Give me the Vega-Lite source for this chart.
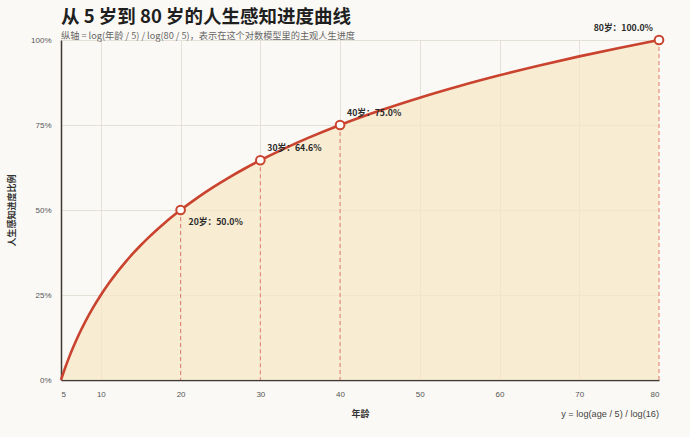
{
  "$schema": "https://vega.github.io/schema/vega-lite/v6.json",
  "autosize": "none",
  "width": 598,
  "height": 340,
  "padding": {"left": 61, "top": 40, "right": 31, "bottom": 57},
  "background": "#FBF9F5",
  "title": {
    "text": "从 5 岁到 80 岁的人生感知进度曲线",
    "subtitle": "纵轴 = log(年龄 / 5) / log(80 / 5)，表示在这个对数模型里的主观人生进度",
    "anchor": "start",
    "frame": "group",
    "offset": -17,
    "font": "Noto Sans CJK SC",
    "fontSize": 18.5,
    "fontWeight": "bold",
    "color": "#1F1F1F",
    "subtitleFont": "Noto Sans CJK SC",
    "subtitleFontSize": 9.2,
    "subtitleColor": "#666666",
    "subtitlePadding": 5
  },
  "config": {
    "view": {"stroke": null},
    "font": "Noto Sans CJK SC",
    "axis": {
      "labelFont": "Liberation Sans",
      "titleFont": "Noto Sans CJK SC",
      "labelColor": "#555555",
      "labelFontSize": 8,
      "titleFontSize": 9,
      "titleFontWeight": "bold",
      "titleColor": "#333333",
      "gridColor": "#E6E1D8",
      "gridWidth": 1,
      "ticks": false,
      "domainColor": "#3E3A36",
      "domainWidth": 1.5
    }
  },
  "datasets": {
    "curve": [
      {"age": 5, "p": 0},
      {"age": 5.5, "p": 0.03438},
      {"age": 6, "p": 0.06576},
      {"age": 6.5, "p": 0.09463},
      {"age": 7, "p": 0.12136},
      {"age": 7.5, "p": 0.14624},
      {"age": 8, "p": 0.16952},
      {"age": 9, "p": 0.212},
      {"age": 10, "p": 0.25},
      {"age": 11, "p": 0.28438},
      {"age": 12, "p": 0.31576},
      {"age": 13, "p": 0.34463},
      {"age": 14, "p": 0.37136},
      {"age": 15, "p": 0.39624},
      {"age": 16, "p": 0.41952},
      {"age": 17, "p": 0.44138},
      {"age": 18, "p": 0.462},
      {"age": 19, "p": 0.4815},
      {"age": 20, "p": 0.5},
      {"age": 22, "p": 0.53438},
      {"age": 24, "p": 0.56576},
      {"age": 26, "p": 0.59463},
      {"age": 28, "p": 0.62136},
      {"age": 30, "p": 0.64624},
      {"age": 33, "p": 0.68062},
      {"age": 36, "p": 0.712},
      {"age": 40, "p": 0.75},
      {"age": 45, "p": 0.79248},
      {"age": 50, "p": 0.83048},
      {"age": 55, "p": 0.86486},
      {"age": 60, "p": 0.89624},
      {"age": 65, "p": 0.92511},
      {"age": 70, "p": 0.95184},
      {"age": 75, "p": 0.97672},
      {"age": 80, "p": 1}
    ],
    "marks": [
      {"age": 20, "p": 0.5, "label": "20岁：50.0%", "pos": "below"},
      {"age": 30, "p": 0.64624, "label": "30岁：64.6%", "pos": "above"},
      {"age": 40, "p": 0.75, "label": "40岁：75.0%", "pos": "above"},
      {"age": 80, "p": 1, "label": "80岁：100.0%", "pos": "left"}
    ],
    "note": [
      {"age": 80, "p": -0.1, "label": "y = log(age / 5) / log(16)"}
    ]
  },
  "encoding": {
    "x": {
      "field": "age",
      "type": "quantitative",
      "scale": {"domain": [5, 80], "nice": false, "zero": false},
      "axis": {
        "title": "年龄",
        "values": [5, 10, 20, 30, 40, 50, 60, 70, 80],
        "labelPadding": 10,
        "titlePadding": 11,
        "gridColor": {"condition": {"test": "datum.value == 5 || datum.value == 80", "value": "transparent"}, "value": "#E6E1D8"}
      }
    },
    "y": {
      "field": "p",
      "type": "quantitative",
      "scale": {"domain": [0, 1], "nice": false},
      "axis": {
        "title": "人生感知进度比例",
        "values": [0, 0.25, 0.5, 0.75, 1],
        "format": ".0%",
        "labelPadding": 10,
        "titlePadding": 14,
        "gridColor": {"condition": {"test": "datum.value == 0", "value": "transparent"}, "value": "#E6E1D8"}
      }
    }
  },
  "layer": [
    {
      "data": {"name": "curve"},
      "mark": {"type": "area", "color": "#F6E6C6", "opacity": 0.72, "interpolate": "monotone"}
    },
    {
      "data": {"name": "marks"},
      "mark": {"type": "rule", "color": "#E07B6B", "strokeDash": [4, 3], "strokeWidth": 1},
      "encoding": {"y2": {"datum": 0}}
    },
    {
      "data": {"name": "curve"},
      "mark": {"type": "line", "color": "#C9432F", "strokeWidth": 2.6, "interpolate": "monotone"}
    },
    {
      "data": {"name": "marks"},
      "mark": {"type": "point", "filled": true, "fill": "#FFFFFF", "stroke": "#C9432F", "strokeWidth": 2, "size": 75, "opacity": 1}
    },
    {
      "data": {"name": "marks"},
      "transform": [{"filter": "datum.pos == 'below'"}],
      "mark": {"type": "text", "align": "left", "dx": 8, "dy": 12, "fontSize": 8.7, "fontWeight": "bold", "color": "#2A2A2A"},
      "encoding": {"text": {"field": "label"}}
    },
    {
      "data": {"name": "marks"},
      "transform": [{"filter": "datum.pos == 'above'"}],
      "mark": {"type": "text", "align": "left", "dx": 7, "dy": -12, "fontSize": 8.7, "fontWeight": "bold", "color": "#2A2A2A"},
      "encoding": {"text": {"field": "label"}}
    },
    {
      "data": {"name": "marks"},
      "transform": [{"filter": "datum.pos == 'left'"}],
      "mark": {"type": "text", "align": "right", "dx": -6, "dy": -12, "fontSize": 8.7, "fontWeight": "bold", "color": "#2A2A2A"},
      "encoding": {"text": {"field": "label"}}
    },
    {
      "data": {"name": "note"},
      "mark": {"type": "text", "align": "right", "baseline": "middle", "font": "Liberation Sans", "fontSize": 9.2, "color": "#444444", "clip": false},
      "encoding": {"text": {"field": "label"}}
    }
  ]
}
